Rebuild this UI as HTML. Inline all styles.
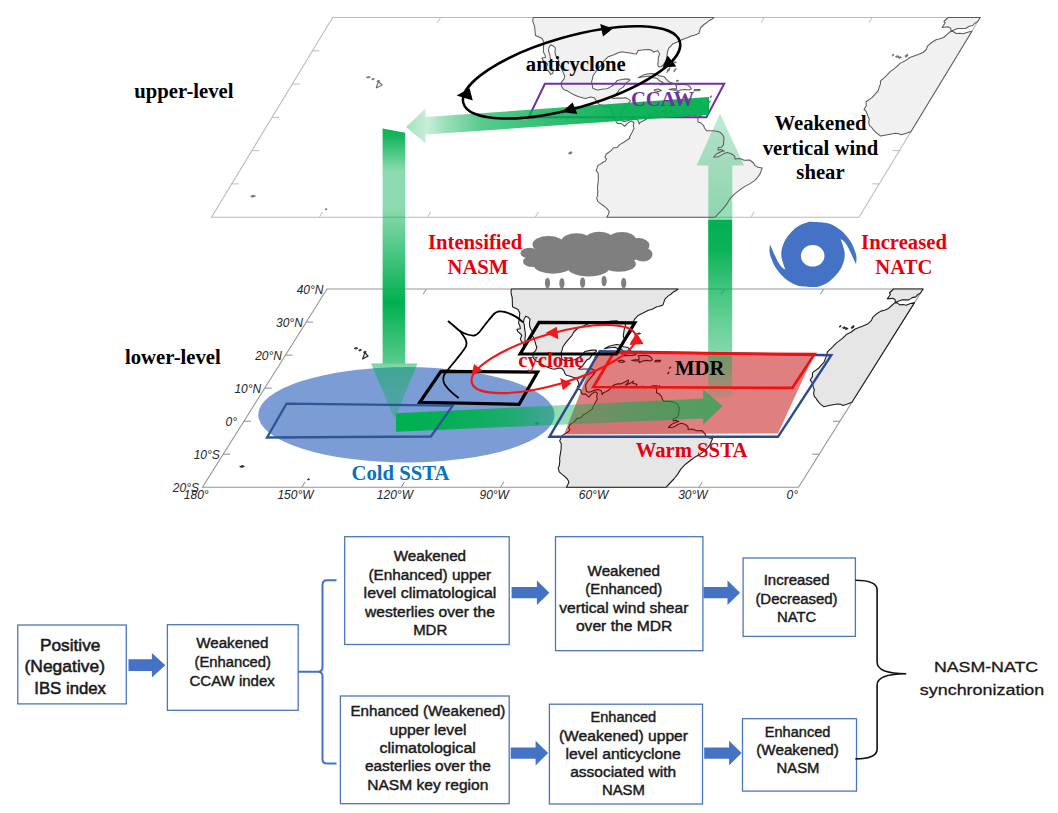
<!DOCTYPE html>
<html><head><meta charset="utf-8"><title>Schematic</title>
<style>
html,body{margin:0;padding:0;background:#fff;width:1058px;height:813px;overflow:hidden;}
svg{display:block}
.sb{font-family:"Liberation Serif",serif;font-weight:bold;}
.si{font-family:"Liberation Sans",sans-serif;font-style:italic;font-size:12px;fill:#262626;}
.fc{font-family:"Liberation Sans",sans-serif;fill:#1a1a1a;stroke:#1a1a1a;}
</style></head><body>
<svg width="1058" height="813" viewBox="0 0 1058 813">
<defs>
<linearGradient id="gW" gradientUnits="userSpaceOnUse" x1="710" y1="0" x2="406" y2="0">
<stop offset="0" stop-color="#00b050" stop-opacity="0.97"/><stop offset="0.3" stop-color="#00b050" stop-opacity="0.93"/><stop offset="0.46" stop-color="#00b050" stop-opacity="0.85"/><stop offset="0.75" stop-color="#00b050" stop-opacity="0.66"/><stop offset="0.87" stop-color="#00b050" stop-opacity="0.4"/><stop offset="0.93" stop-color="#00b050" stop-opacity="0.22"/><stop offset="1" stop-color="#00b050" stop-opacity="0.36"/>
</linearGradient>
<linearGradient id="gD" gradientUnits="userSpaceOnUse" x1="0" y1="128" x2="0" y2="419">
<stop offset="0" stop-color="#00b050" stop-opacity="0.97"/><stop offset="0.03" stop-color="#00b050" stop-opacity="0.92"/><stop offset="0.15" stop-color="#00b050" stop-opacity="0.45"/><stop offset="0.27" stop-color="#00b050" stop-opacity="0.45"/><stop offset="0.45" stop-color="#00b050" stop-opacity="0.75"/><stop offset="0.6" stop-color="#00b050" stop-opacity="1"/><stop offset="0.72" stop-color="#00b050" stop-opacity="0.8"/><stop offset="0.805" stop-color="#00b050" stop-opacity="0.66"/><stop offset="0.815" stop-color="#00b050" stop-opacity="0.5"/><stop offset="1" stop-color="#00b050" stop-opacity="0.3"/>
</linearGradient>
<linearGradient id="gUp" gradientUnits="userSpaceOnUse" x1="0" y1="217" x2="0" y2="398">
<stop offset="0" stop-color="#00b050" stop-opacity="1"/><stop offset="0.18" stop-color="#00b050" stop-opacity="0.96"/><stop offset="0.42" stop-color="#00b050" stop-opacity="0.72"/><stop offset="0.68" stop-color="#00b050" stop-opacity="0.53"/><stop offset="0.82" stop-color="#00b050" stop-opacity="0.45"/><stop offset="0.93" stop-color="#00b050" stop-opacity="0.28"/><stop offset="1" stop-color="#00b050" stop-opacity="0.08"/>
</linearGradient>
<linearGradient id="gUpTop" gradientUnits="userSpaceOnUse" x1="0" y1="219" x2="0" y2="113">
<stop offset="0" stop-color="#00b050" stop-opacity="0.42"/><stop offset="1" stop-color="#00b050" stop-opacity="0.25"/>
</linearGradient>
<linearGradient id="gE" gradientUnits="userSpaceOnUse" x1="396" y1="0" x2="722" y2="0">
<stop offset="0" stop-color="#00b050" stop-opacity="1"/><stop offset="0.135" stop-color="#00b050" stop-opacity="0.97"/><stop offset="0.26" stop-color="#00b050" stop-opacity="0.88"/><stop offset="0.37" stop-color="#00b050" stop-opacity="0.72"/><stop offset="0.46" stop-color="#00b050" stop-opacity="0.5"/><stop offset="0.5" stop-color="#00b050" stop-opacity="0.42"/><stop offset="0.6" stop-color="#00b050" stop-opacity="0.45"/><stop offset="0.75" stop-color="#00b050" stop-opacity="0.55"/><stop offset="0.93" stop-color="#00b050" stop-opacity="0.63"/><stop offset="1" stop-color="#00b050" stop-opacity="0.65"/>
</linearGradient>
</defs>

<g id="upper">
<polygon points="332.7,17.5 980.2,17.5 859.0,217.2 211.5,217.2" fill="none" stroke="#bcbcbc" stroke-width="1.1"/>
<path d="M231.7,183.9h7M879.2,183.9h-7M251.9,150.6h7M899.4,150.6h-7M272.1,117.4h7M919.6,117.4h-7M292.3,84.1h7M939.8,84.1h-7M312.5,50.8h7M960.0,50.8h-7M319.4,217.2l3.2,-5.3M440.6,17.5l-3.2,5.3M427.3,217.2l3.2,-5.3M548.5,17.5l-3.2,5.3M535.2,217.2l3.2,-5.3M656.4,17.5l-3.2,5.3M643.1,217.2l3.2,-5.3M764.3,17.5l-3.2,5.3M751.0,217.2l3.2,-5.3M872.2,17.5l-3.2,5.3" stroke="#bcbcbc" stroke-width="1" fill="none"/>
<path d="M533.1,17.5 L532.8,20.8 L533.7,24.2 L534.5,25.8 L534.8,28.8 L535.5,35.5 L539.5,37.2 L541.8,38.2 L543.8,41.8 L543.6,45.1 L543.5,49.5 L543.2,51.8 L544.8,54.5 L545.5,57.5 L541.9,58.1 L543.0,60.5 L545.0,61.8 L547.6,64.1 L546.2,68.1 L547.4,69.8 L549.9,72.8 L550.3,74.4 L552.7,73.4 L553.2,70.8 L551.7,69.8 L551.3,68.1 L551.5,64.1 L551.0,60.8 L550.2,57.5 L549.7,54.1 L548.5,50.8 L549.0,47.5 L550.7,44.8 L554.0,46.5 L555.3,47.8 L555.0,52.5 L555.9,55.8 L556.8,57.8 L558.9,60.8 L558.7,64.1 L560.7,66.8 L562.0,69.4 L563.5,73.4 L564.8,76.1 L564.0,79.1 L561.3,82.4 L561.4,86.4 L564.0,89.7 L567.9,91.1 L571.0,93.1 L574.0,94.7 L578.0,96.4 L582.6,97.7 L585.8,98.4 L590.2,97.1 L593.6,97.4 L595.7,99.7 L597.0,102.4 L599.0,104.4 L603.1,105.4 L606.6,106.7 L610.4,107.0 L610.5,108.0 L612.3,111.0 L613.2,113.7 L611.5,116.4 L612.8,118.4 L615.5,119.4 L616.2,121.7 L617.4,123.4 L621.0,123.4 L623.4,125.3 L624.9,126.3 L627.4,123.4 L631.4,121.0 L634.0,122.7 L633.2,125.7 L634.1,128.3 L632.1,132.3 L629.4,137.3 L630.1,138.0 L623.8,142.3 L619.6,144.6 L617.2,147.3 L613.2,148.0 L611.2,150.6 L608.8,152.3 L606.3,154.0 L605.0,157.3 L606.6,159.0 L605.1,161.3 L603.7,162.0 L597.8,165.6 L597.1,167.9 L596.2,170.6 L598.2,173.3 L598.2,175.6 L598.4,178.9 L597.9,183.9 L597.4,188.2 L597.8,190.6 L597.6,195.6 L596.6,197.9 L598.0,201.6 L600.9,203.9 L604.1,206.2 L607.2,208.9 L609.2,211.5 L608.5,213.9 L606.8,217.2 L715.1,217.2 L718.2,213.9 L723.0,208.9 L726.8,203.9 L729.8,198.9 L734.6,193.9 L741.2,188.9 L744.5,186.6 L749.7,183.9 L754.6,180.6 L757.7,177.3 L760.0,173.9 L762.2,167.9 L758.0,167.3 L755.2,165.9 L753.4,163.0 L749.8,160.0 L744.2,160.3 L739.8,158.6 L735.0,159.0 L734.8,156.3 L731.9,154.0 L727.3,152.6 L723.8,153.6 L720.4,155.6 L717.5,157.0 L713.5,157.0 L716.4,154.0 L722.0,151.3 L724.3,151.0 L720.8,149.6 L718.3,150.3 L718.1,147.6 L721.5,147.3 L723.5,144.6 L724.0,137.3 L722.2,134.3 L720.2,132.3 L716.8,131.3 L712.9,130.7 L706.5,130.7 L704.5,128.0 L703.7,125.7 L701.0,123.0 L698.0,122.0 L697.9,118.0 L696.5,117.4 L694.7,115.7 L698.3,115.0 L694.4,115.0 L689.1,116.0 L686.0,117.0 L683.4,115.4 L679.6,115.7 L675.5,115.4 L676.3,113.4 L671.5,112.4 L672.2,110.0 L670.1,111.7 L665.1,114.0 L663.8,114.4 L666.7,111.4 L666.6,109.2 L662.4,111.4 L658.5,113.0 L655.3,113.0 L652.4,113.7 L649.0,115.7 L646.6,119.0 L642.9,121.0 L639.9,122.4 L639.3,124.0 L638.5,121.7 L637.6,119.7 L634.6,118.7 L630.9,119.4 L626.7,121.0 L624.0,121.4 L621.9,120.7 L621.4,119.0 L621.0,117.4 L620.3,114.4 L622.5,110.7 L625.3,107.4 L628.0,104.0 L630.4,100.7 L628.5,99.1 L625.7,97.7 L621.9,98.1 L616.5,98.1 L613.8,98.4 L611.7,97.7 L615.1,95.7 L617.5,92.4 L619.8,89.1 L623.0,87.4 L625.8,83.4 L630.0,80.1 L629.1,79.1 L624.5,79.1 L617.2,80.4 L614.6,84.1 L613.8,84.7 L609.7,87.4 L606.7,88.7 L602.9,89.1 L598.0,90.1 L595.5,89.4 L592.7,88.1 L592.4,85.7 L591.5,81.8 L592.4,79.1 L593.0,75.8 L596.4,70.8 L602.0,64.4 L603.9,60.8 L608.1,56.8 L614.0,54.8 L618.1,52.8 L622.0,51.8 L626.2,52.5 L630.1,53.1 L633.7,53.8 L636.4,54.1 L638.2,50.5 L644.0,49.8 L649.6,49.5 L652.4,50.8 L653.4,52.1 L657.8,50.8 L659.6,53.8 L658.4,57.5 L658.2,61.4 L657.8,64.4 L658.5,66.8 L661.1,66.8 L663.8,64.1 L666.1,60.8 L667.0,55.8 L667.5,51.5 L668.8,48.1 L672.6,44.1 L677.7,41.8 L682.9,39.2 L687.3,37.8 L692.3,35.5 L694.3,35.2 L698.9,33.5 L700.1,29.2 L700.7,27.5 L704.0,24.5 L707.0,22.5 L708.7,20.8 L711.9,19.2 L714.0,17.5Z" fill="#f1f1f1" stroke="none"/>
<path d="M638.2,77.8 L643.1,75.1 L647.3,74.1 L651.3,73.4 L656.3,74.1 L658.8,75.8 L663.8,76.4 L666.0,78.8 L668.9,81.8 L673.3,83.4 L669.8,84.4 L659.9,84.7 L663.1,82.4 L659.4,80.8 L657.2,78.4 L652.4,77.4 L649.7,76.1 L643.9,76.8Z" fill="#f1f1f1" stroke="none"/>
<path d="M668.9,89.4 L673.5,90.1 L677.1,90.1 L677.2,91.7 L680.7,90.1 L684.7,89.4 L689.0,90.1 L691.3,88.7 L690.0,86.7 L687.7,85.1 L684.2,84.4 L680.6,84.4 L675.3,84.7 L676.5,86.4 L676.5,88.7 L672.6,88.7Z" fill="#f1f1f1" stroke="none"/>
<path d="M654.1,90.1 L658.0,89.1 L661.5,90.4 L658.7,91.4 L655.0,91.1Z" fill="#f1f1f1" stroke="none"/>
<path d="M694.8,89.4 L700.2,89.4 L699.4,90.7 L694.0,90.7Z" fill="#f1f1f1" stroke="none"/>
<path d="M948.1,17.5 L943.9,21.5 L945.3,22.8 L942.1,27.5 L947.9,26.8 L950.7,28.2 L950.9,30.2 L951.9,30.8 L953.4,30.2 L957.7,28.5 L962.7,28.5 L965.6,28.5 L969.2,26.2 L972.8,25.5 L974.9,23.2 L977.5,21.8 L980.2,17.5Z" fill="#f1f1f1" stroke="none"/>
<path d="M950.5,31.5 L947.4,34.2 L943.6,37.5 L939.9,38.8 L936.1,39.8 L931.6,42.5 L927.7,45.8 L926.2,49.5 L923.0,52.5 L917.6,54.8 L909.3,57.8 L905.3,60.8 L900.1,63.4 L895.9,67.4 L890.0,71.8 L886.2,75.8 L880.6,80.8 L880.4,84.1 L879.1,87.4 L878.2,90.7 L872.3,97.4 L866.1,101.7 L866.2,105.7 L864.0,109.4 L865.8,111.0 L867.4,114.4 L868.0,116.4 L869.3,119.0 L868.7,122.4 L869.5,125.7 L871.9,127.7 L873.2,129.7 L876.1,132.7 L880.6,136.0 L887.5,134.7 L895.5,133.3 L898.9,133.7 L901.4,134.8 L906.3,133.3 L911.0,131.5 L971.9,31.2 L967.7,32.2 L963.1,33.8 L959.9,33.2 L956.1,33.5 L952.8,31.2Z" fill="#f1f1f1" stroke="none"/>
<path d="M378.5,81.6 L382.2,85.1 L376.3,87.9 L377.3,84.4Z" fill="#f1f1f1" stroke="none"/>
<polygon points="708.3,219.5 708.3,165.4 696.6,165.4 720,113.5 744,165.4 732.3,165.4 732.3,219.5" fill="url(#gUpTop)"/>
<path d="M533.1,17.5 L532.8,20.8 L533.7,24.2 L534.5,25.8 L534.8,28.8 L535.5,35.5 L539.5,37.2 L541.8,38.2 L543.8,41.8 L543.6,45.1 L543.5,49.5 L543.2,51.8 L544.8,54.5 L545.5,57.5 L541.9,58.1 L543.0,60.5 L545.0,61.8 L547.6,64.1 L546.2,68.1 L547.4,69.8 L549.9,72.8 L550.3,74.4 L552.7,73.4 L553.2,70.8 L551.7,69.8 L551.3,68.1 L551.5,64.1 L551.0,60.8 L550.2,57.5 L549.7,54.1 L548.5,50.8 L549.0,47.5 L550.7,44.8 L554.0,46.5 L555.3,47.8 L555.0,52.5 L555.9,55.8 L556.8,57.8 L558.9,60.8 L558.7,64.1 L560.7,66.8 L562.0,69.4 L563.5,73.4 L564.8,76.1 L564.0,79.1 L561.3,82.4 L561.4,86.4 L564.0,89.7 L567.9,91.1 L571.0,93.1 L574.0,94.7 L578.0,96.4 L582.6,97.7 L585.8,98.4 L590.2,97.1 L593.6,97.4 L595.7,99.7 L597.0,102.4 L599.0,104.4 L603.1,105.4 L606.6,106.7 L610.4,107.0 L610.5,108.0 L612.3,111.0 L613.2,113.7 L611.5,116.4 L612.8,118.4 L615.5,119.4 L616.2,121.7 L617.4,123.4 L621.0,123.4 L623.4,125.3 L624.9,126.3 L627.4,123.4 L631.4,121.0 L634.0,122.7 L633.2,125.7 L634.1,128.3 L632.1,132.3 L629.4,137.3 L630.1,138.0 L623.8,142.3 L619.6,144.6 L617.2,147.3 L613.2,148.0 L611.2,150.6 L608.8,152.3 L606.3,154.0 L605.0,157.3 L606.6,159.0 L605.1,161.3 L603.7,162.0 L597.8,165.6 L597.1,167.9 L596.2,170.6 L598.2,173.3 L598.2,175.6 L598.4,178.9 L597.9,183.9 L597.4,188.2 L597.8,190.6 L597.6,195.6 L596.6,197.9 L598.0,201.6 L600.9,203.9 L604.1,206.2 L607.2,208.9 L609.2,211.5 L608.5,213.9 L606.8,217.2 L715.1,217.2 L718.2,213.9 L723.0,208.9 L726.8,203.9 L729.8,198.9 L734.6,193.9 L741.2,188.9 L744.5,186.6 L749.7,183.9 L754.6,180.6 L757.7,177.3 L760.0,173.9 L762.2,167.9 L758.0,167.3 L755.2,165.9 L753.4,163.0 L749.8,160.0 L744.2,160.3 L739.8,158.6 L735.0,159.0 L734.8,156.3 L731.9,154.0 L727.3,152.6 L723.8,153.6 L720.4,155.6 L717.5,157.0 L713.5,157.0 L716.4,154.0 L722.0,151.3 L724.3,151.0 L720.8,149.6 L718.3,150.3 L718.1,147.6 L721.5,147.3 L723.5,144.6 L724.0,137.3 L722.2,134.3 L720.2,132.3 L716.8,131.3 L712.9,130.7 L706.5,130.7 L704.5,128.0 L703.7,125.7 L701.0,123.0 L698.0,122.0 L697.9,118.0 L696.5,117.4 L694.7,115.7 L698.3,115.0 L694.4,115.0 L689.1,116.0 L686.0,117.0 L683.4,115.4 L679.6,115.7 L675.5,115.4 L676.3,113.4 L671.5,112.4 L672.2,110.0 L670.1,111.7 L665.1,114.0 L663.8,114.4 L666.7,111.4 L666.6,109.2 L662.4,111.4 L658.5,113.0 L655.3,113.0 L652.4,113.7 L649.0,115.7 L646.6,119.0 L642.9,121.0 L639.9,122.4 L639.3,124.0 L638.5,121.7 L637.6,119.7 L634.6,118.7 L630.9,119.4 L626.7,121.0 L624.0,121.4 L621.9,120.7 L621.4,119.0 L621.0,117.4 L620.3,114.4 L622.5,110.7 L625.3,107.4 L628.0,104.0 L630.4,100.7 L628.5,99.1 L625.7,97.7 L621.9,98.1 L616.5,98.1 L613.8,98.4 L611.7,97.7 L615.1,95.7 L617.5,92.4 L619.8,89.1 L623.0,87.4 L625.8,83.4 L630.0,80.1 L629.1,79.1 L624.5,79.1 L617.2,80.4 L614.6,84.1 L613.8,84.7 L609.7,87.4 L606.7,88.7 L602.9,89.1 L598.0,90.1 L595.5,89.4 L592.7,88.1 L592.4,85.7 L591.5,81.8 L592.4,79.1 L593.0,75.8 L596.4,70.8 L602.0,64.4 L603.9,60.8 L608.1,56.8 L614.0,54.8 L618.1,52.8 L622.0,51.8 L626.2,52.5 L630.1,53.1 L633.7,53.8 L636.4,54.1 L638.2,50.5 L644.0,49.8 L649.6,49.5 L652.4,50.8 L653.4,52.1 L657.8,50.8 L659.6,53.8 L658.4,57.5 L658.2,61.4 L657.8,64.4 L658.5,66.8 L661.1,66.8 L663.8,64.1 L666.1,60.8 L667.0,55.8 L667.5,51.5 L668.8,48.1 L672.6,44.1 L677.7,41.8 L682.9,39.2 L687.3,37.8 L692.3,35.5 L694.3,35.2 L698.9,33.5 L700.1,29.2 L700.7,27.5 L704.0,24.5 L707.0,22.5 L708.7,20.8 L711.9,19.2 L714.0,17.5Z" fill="none" stroke="#5c5c5c" stroke-width="1.05" stroke-linejoin="round"/>
<path d="M638.2,77.8 L643.1,75.1 L647.3,74.1 L651.3,73.4 L656.3,74.1 L658.8,75.8 L663.8,76.4 L666.0,78.8 L668.9,81.8 L673.3,83.4 L669.8,84.4 L659.9,84.7 L663.1,82.4 L659.4,80.8 L657.2,78.4 L652.4,77.4 L649.7,76.1 L643.9,76.8Z" fill="none" stroke="#5c5c5c" stroke-width="1.05" stroke-linejoin="round"/>
<path d="M668.9,89.4 L673.5,90.1 L677.1,90.1 L677.2,91.7 L680.7,90.1 L684.7,89.4 L689.0,90.1 L691.3,88.7 L690.0,86.7 L687.7,85.1 L684.2,84.4 L680.6,84.4 L675.3,84.7 L676.5,86.4 L676.5,88.7 L672.6,88.7Z" fill="none" stroke="#5c5c5c" stroke-width="1.05" stroke-linejoin="round"/>
<path d="M654.1,90.1 L658.0,89.1 L661.5,90.4 L658.7,91.4 L655.0,91.1Z" fill="none" stroke="#5c5c5c" stroke-width="1.05" stroke-linejoin="round"/>
<path d="M694.8,89.4 L700.2,89.4 L699.4,90.7 L694.0,90.7Z" fill="none" stroke="#5c5c5c" stroke-width="1.05" stroke-linejoin="round"/>
<path d="M948.1,17.5 L943.9,21.5 L945.3,22.8 L942.1,27.5 L947.9,26.8 L950.7,28.2 L950.9,30.2 L951.9,30.8 L953.4,30.2 L957.7,28.5 L962.7,28.5 L965.6,28.5 L969.2,26.2 L972.8,25.5 L974.9,23.2 L977.5,21.8 L980.2,17.5Z" fill="none" stroke="#5c5c5c" stroke-width="1.05" stroke-linejoin="round"/>
<path d="M950.5,31.5 L947.4,34.2 L943.6,37.5 L939.9,38.8 L936.1,39.8 L931.6,42.5 L927.7,45.8 L926.2,49.5 L923.0,52.5 L917.6,54.8 L909.3,57.8 L905.3,60.8 L900.1,63.4 L895.9,67.4 L890.0,71.8 L886.2,75.8 L880.6,80.8 L880.4,84.1 L879.1,87.4 L878.2,90.7 L872.3,97.4 L866.1,101.7 L866.2,105.7 L864.0,109.4 L865.8,111.0 L867.4,114.4 L868.0,116.4 L869.3,119.0 L868.7,122.4 L869.5,125.7 L871.9,127.7 L873.2,129.7 L876.1,132.7 L880.6,136.0 L887.5,134.7 L895.5,133.3 L898.9,133.7 L901.4,134.8 L906.3,133.3 L911.0,131.5 L971.9,31.2 L967.7,32.2 L963.1,33.8 L959.9,33.2 L956.1,33.5 L952.8,31.2Z" fill="none" stroke="#5c5c5c" stroke-width="1.05" stroke-linejoin="round"/>
<path d="M378.5,81.6 L382.2,85.1 L376.3,87.9 L377.3,84.4Z" fill="none" stroke="#5c5c5c" stroke-width="1.05" stroke-linejoin="round"/>
<path d="M376.8,81.1 L378.9,80.1 L379.7,81.1 L377.7,82.1Z" fill="#777" stroke="#6a6a6a" stroke-width="0.7" stroke-linejoin="round"/>
<path d="M371.6,79.1 L373.6,78.2 L374.5,79.1 L372.5,80.0Z" fill="#777" stroke="#6a6a6a" stroke-width="0.7" stroke-linejoin="round"/>
<path d="M366.4,77.3 L368.8,76.5 L370.4,77.3 L367.9,78.0Z" fill="#777" stroke="#6a6a6a" stroke-width="0.7" stroke-linejoin="round"/>
<path d="M898.0,57.5 L900.4,56.5 L901.6,57.5 L899.2,58.5Z" fill="#777" stroke="#6a6a6a" stroke-width="0.7" stroke-linejoin="round"/>
<path d="M895.4,56.5 L897.8,55.5 L899.0,56.5 L896.6,57.5Z" fill="#777" stroke="#6a6a6a" stroke-width="0.7" stroke-linejoin="round"/>
<path d="M905.1,55.8 L907.6,54.1 L908.0,55.8 L905.6,57.5Z" fill="#777" stroke="#6a6a6a" stroke-width="0.7" stroke-linejoin="round"/>
<path d="M892.0,55.1 L893.6,54.1 L893.8,55.1 L892.3,56.1Z" fill="#777" stroke="#6a6a6a" stroke-width="0.7" stroke-linejoin="round"/>
<path d="M698.4,116.0 L701.0,114.7 L702.0,116.0 L699.4,117.4Z" fill="#777" stroke="#6a6a6a" stroke-width="0.7" stroke-linejoin="round"/>
<path d="M568.5,153.0 L571.1,151.6 L572.1,153.0 L569.5,154.3Z" fill="#777" stroke="#6a6a6a" stroke-width="0.7" stroke-linejoin="round"/>
<path d="M667.3,70.1 L670.0,67.4 L669.5,70.1 L666.8,72.8Z" fill="#777" stroke="#6a6a6a" stroke-width="0.7" stroke-linejoin="round"/>
<path d="M673.0,62.4 L675.2,61.8 L676.6,62.4 L674.4,63.1Z" fill="#777" stroke="#6a6a6a" stroke-width="0.7" stroke-linejoin="round"/>
<path d="M674.2,70.1 L676.1,68.1 L675.6,70.1 L673.7,72.1Z" fill="#777" stroke="#6a6a6a" stroke-width="0.7" stroke-linejoin="round"/>
<path d="M676.0,80.8 L677.8,80.1 L678.8,80.8 L677.0,81.4Z" fill="#777" stroke="#6a6a6a" stroke-width="0.7" stroke-linejoin="round"/>
<path d="M710.0,96.7 L711.5,95.7 L711.8,96.7 L710.3,97.7Z" fill="#777" stroke="#6a6a6a" stroke-width="0.7" stroke-linejoin="round"/>
<path d="M708.7,102.1 L710.1,100.9 L710.2,102.1 L708.7,103.2Z" fill="#777" stroke="#6a6a6a" stroke-width="0.7" stroke-linejoin="round"/>
<path d="M325.0,209.2 L326.5,208.5 L327.1,209.2 L325.7,209.9Z" fill="#777" stroke="#6a6a6a" stroke-width="0.7" stroke-linejoin="round"/>
<path d="M250.5,196.2 L253.6,195.2 L255.5,196.2 L252.4,197.2Z" fill="#777" stroke="#6a6a6a" stroke-width="0.7" stroke-linejoin="round"/>
</g>
<g id="lower">
<polygon points="327.0,289.0 923.0,289.0 798.5,487.3 202.5,487.3" fill="none" stroke="#959595" stroke-width="1.1"/>
<path d="M223.2,454.2h7M819.2,454.2h-7M244.0,421.2h7M840.0,421.2h-7M264.8,388.1h7M860.7,388.1h-7M285.5,355.1h7M881.5,355.1h-7M306.2,322.1h7M902.2,322.1h-7M301.8,487.3l3.2,-5.3M426.3,289.0l-3.2,5.3M401.2,487.3l3.2,-5.3M525.7,289.0l-3.2,5.3M500.5,487.3l3.2,-5.3M625.0,289.0l-3.2,5.3M599.8,487.3l3.2,-5.3M724.3,289.0l-3.2,5.3M699.1,487.3l3.2,-5.3M823.6,289.0l-3.2,5.3" stroke="#8c8c8c" stroke-width="1" fill="none"/>
<path d="M511.4,289.0 L511.0,292.3 L511.6,295.6 L512.2,297.3 L512.3,300.2 L512.5,306.8 L516.1,308.5 L518.1,309.5 L519.8,313.1 L519.4,316.4 L519.0,320.7 L518.5,323.0 L519.8,325.7 L520.3,328.7 L516.9,329.3 L517.8,331.6 L519.6,333.0 L521.8,335.3 L520.3,339.2 L521.2,340.9 L523.3,343.9 L523.6,345.5 L525.9,344.5 L526.6,341.9 L525.2,340.9 L524.9,339.2 L525.4,335.3 L525.2,332.0 L524.6,328.7 L524.4,325.4 L523.5,322.1 L524.2,318.7 L525.9,316.1 L528.8,317.8 L530.0,319.1 L529.4,323.7 L529.9,327.0 L530.7,329.0 L532.5,332.0 L532.0,335.3 L533.7,337.9 L534.7,340.6 L535.8,344.5 L536.8,347.2 L535.9,350.1 L533.2,353.4 L533.0,357.4 L535.3,360.7 L538.7,362.0 L541.5,364.0 L544.1,365.7 L547.7,367.3 L551.8,368.7 L554.7,369.3 L558.8,368.0 L561.9,368.3 L563.8,370.6 L564.8,373.3 L566.5,375.3 L570.2,376.3 L573.4,377.6 L576.8,377.9 L576.8,378.9 L578.3,381.9 L578.9,384.5 L577.3,387.2 L578.3,389.1 L580.7,390.1 L581.2,392.4 L582.2,394.1 L585.5,394.1 L587.6,396.1 L588.9,397.1 L591.5,394.1 L595.2,391.8 L597.5,393.4 L596.6,396.4 L597.3,399.1 L595.1,403.0 L592.3,408.0 L592.9,408.6 L586.9,412.9 L582.8,415.3 L580.5,417.9 L576.8,418.6 L574.8,421.2 L572.4,422.9 L570.0,424.5 L568.6,427.8 L569.9,429.5 L568.5,431.8 L567.1,432.4 L561.5,436.1 L560.7,438.4 L559.7,441.0 L561.3,443.7 L561.2,446.0 L561.1,449.3 L560.3,454.2 L559.6,458.5 L559.8,460.9 L559.3,465.8 L558.2,468.1 L559.2,471.8 L561.8,474.1 L564.6,476.4 L567.3,479.0 L568.9,481.7 L568.1,484.0 L566.4,487.3 L666.0,487.3 L669.1,484.0 L673.9,479.0 L677.7,474.1 L680.8,469.1 L685.5,464.2 L692.0,459.2 L695.1,456.9 L700.0,454.2 L704.8,450.9 L707.8,447.6 L710.2,444.3 L712.6,438.4 L708.8,437.7 L706.3,436.4 L704.8,433.4 L701.7,430.5 L696.6,430.8 L692.6,429.1 L688.1,429.5 L688.1,426.8 L685.6,424.5 L681.5,423.2 L678.2,424.2 L675.0,426.2 L672.1,427.5 L668.5,427.5 L671.4,424.5 L676.7,421.9 L678.9,421.5 L675.7,420.2 L673.3,420.9 L673.3,418.2 L676.5,417.9 L678.5,415.3 L679.4,408.0 L678.0,405.0 L676.2,403.0 L673.2,402.0 L669.7,401.4 L663.7,401.4 L662.1,398.7 L661.5,396.4 L659.2,393.8 L656.5,392.8 L656.7,388.8 L655.4,388.1 L653.8,386.5 L657.2,385.8 L653.6,385.8 L648.7,386.8 L645.7,387.8 L643.4,386.2 L639.9,386.5 L636.2,386.2 L637.1,384.2 L632.7,383.2 L633.5,380.9 L631.5,382.5 L626.7,384.8 L625.5,385.2 L628.4,382.2 L628.4,380.1 L624.4,382.2 L620.7,383.9 L617.8,383.9 L615.0,384.5 L611.8,386.5 L609.4,389.8 L605.8,391.8 L603.0,393.1 L602.3,394.8 L601.8,392.4 L601.0,390.5 L598.3,389.5 L594.9,390.1 L590.9,391.8 L588.4,392.1 L586.5,391.5 L586.2,389.8 L585.9,388.1 L585.5,385.2 L587.7,381.5 L590.5,378.2 L593.2,374.9 L595.6,371.6 L594.0,370.0 L591.5,368.7 L588.0,369.0 L583.1,369.0 L580.5,369.3 L578.6,368.7 L581.9,366.7 L584.3,363.4 L586.7,360.1 L589.7,358.4 L592.5,354.4 L596.6,351.1 L595.9,350.1 L591.6,350.1 L584.8,351.5 L582.2,355.1 L581.4,355.8 L577.4,358.4 L574.6,359.7 L571.1,360.1 L566.5,361.0 L564.3,360.4 L561.8,359.1 L561.6,356.8 L561.1,352.8 L562.1,350.1 L562.9,346.8 L566.3,341.9 L571.9,335.6 L573.8,332.0 L578.0,328.0 L583.5,326.0 L587.4,324.0 L591.0,323.0 L594.9,323.7 L598.5,324.4 L601.7,325.0 L604.2,325.4 L606.1,321.7 L611.5,321.1 L616.7,320.7 L619.1,322.1 L620.0,323.4 L624.1,322.1 L625.5,325.0 L624.3,328.7 L623.8,332.6 L623.2,335.6 L623.7,337.9 L626.1,337.9 L628.7,335.3 L631.1,332.0 L632.3,327.0 L633.0,322.7 L634.4,319.4 L638.2,315.4 L643.0,313.1 L647.9,310.5 L652.1,309.2 L656.8,306.8 L658.7,306.5 L663.0,304.9 L664.4,300.6 L665.1,298.9 L668.3,295.9 L671.2,294.0 L672.9,292.3 L675.9,290.7 L678.0,289.0Z" fill="#e6e6e6" stroke="#1c1c1c" stroke-width="1.1" stroke-linejoin="round"/>
<path d="M604.3,348.8 L609.0,346.2 L612.9,345.2 L616.6,344.5 L621.2,345.2 L623.4,346.8 L628.0,347.5 L629.9,349.8 L632.3,352.8 L636.2,354.4 L632.9,355.4 L623.8,355.8 L626.9,353.4 L623.6,351.8 L621.8,349.5 L617.4,348.5 L615.0,347.2 L609.6,347.8Z" fill="#e6e6e6" stroke="#1c1c1c" stroke-width="1.1" stroke-linejoin="round"/>
<path d="M631.8,360.4 L636.0,361.0 L639.4,361.0 L639.3,362.7 L642.7,361.0 L646.4,360.4 L650.3,361.0 L652.4,359.7 L651.4,357.7 L649.4,356.1 L646.2,355.4 L642.9,355.4 L638.0,355.8 L639.0,357.4 L638.9,359.7 L635.2,359.7Z" fill="#e6e6e6" stroke="#1c1c1c" stroke-width="1.1" stroke-linejoin="round"/>
<path d="M618.2,361.0 L621.8,360.1 L624.9,361.4 L622.3,362.4 L618.9,362.0Z" fill="#e6e6e6" stroke="#1c1c1c" stroke-width="1.1" stroke-linejoin="round"/>
<path d="M655.7,360.4 L660.6,360.4 L659.8,361.7 L654.8,361.7Z" fill="#e6e6e6" stroke="#1c1c1c" stroke-width="1.1" stroke-linejoin="round"/>
<path d="M893.5,289.0 L889.4,293.0 L890.5,294.3 L887.3,298.9 L892.7,298.3 L895.1,299.6 L895.2,301.6 L896.1,302.2 L897.5,301.6 L901.6,299.9 L906.2,299.9 L908.8,299.9 L912.3,297.6 L915.7,296.9 L917.8,294.6 L920.3,293.3 L923.0,289.0Z" fill="#e6e6e6" stroke="#1c1c1c" stroke-width="1.1" stroke-linejoin="round"/>
<path d="M894.7,302.9 L891.7,305.5 L888.0,308.8 L884.5,310.2 L880.9,311.1 L876.6,313.8 L872.9,317.1 L871.3,320.7 L868.1,323.7 L863.0,326.0 L855.2,329.0 L851.3,332.0 L846.3,334.6 L842.2,338.6 L836.5,342.9 L832.7,346.8 L827.3,351.8 L826.8,355.1 L825.4,358.4 L824.4,361.7 L818.5,368.3 L812.5,372.6 L812.4,376.6 L810.1,380.2 L811.7,381.9 L812.9,385.2 L813.3,387.2 L814.3,389.8 L813.6,393.1 L814.2,396.4 L816.2,398.4 L817.3,400.4 L819.7,403.4 L823.6,406.7 L830.1,405.3 L837.5,404.0 L840.6,404.3 L842.9,405.5 L847.5,404.0 L851.9,402.2 L914.5,302.6 L910.5,303.5 L906.2,305.2 L903.3,304.5 L899.8,304.9 L896.9,302.6Z" fill="#e6e6e6" stroke="#1c1c1c" stroke-width="1.1" stroke-linejoin="round"/>
<path d="M365.0,352.6 L368.1,356.1 L362.6,358.9 L363.8,355.4Z" fill="#e6e6e6" stroke="#1c1c1c" stroke-width="1.1" stroke-linejoin="round"/>
<path d="M363.5,352.1 L365.5,351.1 L366.2,352.1 L364.2,353.1Z" fill="#333" stroke="#1c1c1c" stroke-width="0.8" stroke-linejoin="round"/>
<path d="M358.8,350.1 L360.7,349.2 L361.5,350.1 L359.5,351.1Z" fill="#333" stroke="#1c1c1c" stroke-width="0.8" stroke-linejoin="round"/>
<path d="M354.2,348.3 L356.4,347.6 L357.8,348.3 L355.5,349.1Z" fill="#333" stroke="#1c1c1c" stroke-width="0.8" stroke-linejoin="round"/>
<path d="M844.8,328.7 L847.1,327.7 L848.1,328.7 L845.8,329.7Z" fill="#333" stroke="#1c1c1c" stroke-width="0.8" stroke-linejoin="round"/>
<path d="M842.4,327.7 L844.7,326.7 L845.7,327.7 L843.4,328.7Z" fill="#333" stroke="#1c1c1c" stroke-width="0.8" stroke-linejoin="round"/>
<path d="M851.4,327.0 L853.8,325.4 L854.1,327.0 L851.7,328.7Z" fill="#333" stroke="#1c1c1c" stroke-width="0.8" stroke-linejoin="round"/>
<path d="M839.4,326.3 L840.9,325.4 L841.1,326.3 L839.6,327.3Z" fill="#333" stroke="#1c1c1c" stroke-width="0.8" stroke-linejoin="round"/>
<path d="M657.3,386.8 L659.8,385.5 L660.6,386.8 L658.1,388.1Z" fill="#333" stroke="#1c1c1c" stroke-width="0.8" stroke-linejoin="round"/>
<path d="M535.2,423.5 L537.7,422.2 L538.6,423.5 L536.1,424.8Z" fill="#333" stroke="#1c1c1c" stroke-width="0.8" stroke-linejoin="round"/>
<path d="M631.6,341.2 L634.3,338.6 L633.6,341.2 L630.9,343.9Z" fill="#333" stroke="#1c1c1c" stroke-width="0.8" stroke-linejoin="round"/>
<path d="M637.4,333.6 L639.4,333.0 L640.7,333.6 L638.6,334.3Z" fill="#333" stroke="#1c1c1c" stroke-width="0.8" stroke-linejoin="round"/>
<path d="M637.9,341.2 L639.8,339.2 L639.2,341.2 L637.3,343.2Z" fill="#333" stroke="#1c1c1c" stroke-width="0.8" stroke-linejoin="round"/>
<path d="M638.9,351.8 L640.6,351.1 L641.5,351.8 L639.8,352.5Z" fill="#333" stroke="#1c1c1c" stroke-width="0.8" stroke-linejoin="round"/>
<path d="M669.1,367.7 L670.6,366.7 L670.8,367.7 L669.3,368.7Z" fill="#333" stroke="#1c1c1c" stroke-width="0.8" stroke-linejoin="round"/>
<path d="M667.6,372.9 L669.0,371.8 L669.0,372.9 L667.6,374.1Z" fill="#333" stroke="#1c1c1c" stroke-width="0.8" stroke-linejoin="round"/>
<path d="M307.5,479.4 L308.9,478.7 L309.5,479.4 L308.1,480.0Z" fill="#333" stroke="#1c1c1c" stroke-width="0.8" stroke-linejoin="round"/>
<path d="M239.7,466.5 L242.7,465.5 L244.4,466.5 L241.4,467.5Z" fill="#333" stroke="#1c1c1c" stroke-width="0.8" stroke-linejoin="round"/>
<text class="si" x="323.5" y="294.0" text-anchor="end">40°N</text>
<text class="si" x="302.8" y="327.1" text-anchor="end">30°N</text>
<text class="si" x="282.0" y="360.1" text-anchor="end">20°N</text>
<text class="si" x="261.2" y="393.1" text-anchor="end">10°N</text>
<text class="si" x="237.0" y="426.2" text-anchor="end">0°</text>
<text class="si" x="219.8" y="459.2" text-anchor="end">10°S</text>
<text class="si" x="199.0" y="492.3" text-anchor="end">20°S</text>
<text class="si" x="196.2" y="498.6" text-anchor="middle">180°</text>
<text class="si" x="295.5" y="498.6" text-anchor="middle">150°W</text>
<text class="si" x="394.9" y="498.6" text-anchor="middle">120°W</text>
<text class="si" x="494.2" y="498.6" text-anchor="middle">90°W</text>
<text class="si" x="593.5" y="498.6" text-anchor="middle">60°W</text>
<text class="si" x="692.9" y="498.6" text-anchor="middle">30°W</text>
<text class="si" x="792.2" y="498.6" text-anchor="middle">0°</text>
</g>
<g id="overlays">
<ellipse cx="406.4" cy="414.8" rx="148.2" ry="47.7" fill="#4472c4" fill-opacity="0.7"/>
<polygon points="595.5,354 814,355 778,433.5 564,434.3" fill="#c00000" fill-opacity="0.5"/>
<rect x="708.2" y="219.6" width="23.9" height="178.4" fill="url(#gUp)"/>
<polygon points="544.9,83.7 724.2,83.7 706.5,117.3 528.7,117.3" fill="none" stroke="#7030a0" stroke-width="2"/>
<polygon points="709,97.1 709,114.7 425.5,134.6 425.5,143.3 406,127 425.5,108.4 425.5,117.1" fill="url(#gW)"/>
<polygon points="382.6,128.4 405.2,132.7 405.2,363.5 417.5,363.5 394.5,419 371,363.5 382.6,363.5" fill="url(#gD)"/>
<polygon points="396,413.2 703.2,398.4 703.2,389.3 722.6,406 703.2,424.8 703.2,418.4 396,431.8" fill="url(#gE)"/>
<polygon points="286.5,403.7 452.7,405.6 430.9,436.5 267,437.5" fill="none" stroke="#2f5597" stroke-width="2.3"/>
<polygon points="599.7,351.3 831.3,355.2 778,436.8 549.4,436.8" fill="none" stroke="#2a4b8d" stroke-width="2.4"/>
<polygon points="613.8,352.7 814.5,354.2 792.3,387.9 593.4,387" fill="none" stroke="#f01010" stroke-width="2.7"/>
<polygon points="441,371.3 537.6,372.1 519.1,404.4 419.8,402.3" fill="none" stroke="#000" stroke-width="3.2"/>
<polygon points="539,322.4 634.8,322.9 616.3,354 520.2,354" fill="none" stroke="#000" stroke-width="3.2"/>
<path d="M447.9,321.0 C448.9,321.8 452.0,324.3 454.0,326.0 C456.0,327.7 457.8,329.7 460.0,331.1 C462.2,332.5 465.1,333.8 467.5,334.5 C469.9,335.2 472.4,335.7 474.2,335.5 C476.0,335.3 476.3,335.3 478.3,333.2 C480.3,331.1 483.7,326.3 486.4,323.0 C489.1,319.7 492.5,315.4 494.5,313.5 C496.5,311.6 496.8,311.7 498.6,311.5 C500.4,311.3 502.5,311.3 505.4,312.2 C508.3,313.1 513.3,315.2 516.2,316.9 C519.1,318.6 521.9,321.4 523.0,322.3" fill="none" stroke="#000" stroke-width="1.8"/>
<path d="M460.0,331.1 C460.9,332.5 464.4,336.7 465.4,339.2 C466.4,341.7 467.5,342.8 466.1,346.0 C464.8,349.2 460.2,354.4 457.3,358.2 C454.4,362.0 450.8,366.1 448.5,369.0 C446.2,371.9 444.6,373.6 443.8,375.8 C443.0,378.1 442.8,380.0 443.8,382.5 C444.8,385.0 447.4,388.1 449.9,390.7 C452.4,393.3 457.2,396.9 458.7,398.1" fill="none" stroke="#000" stroke-width="1.8"/>
<ellipse cx="571.6" cy="72.4" rx="112.5" ry="35.7" transform="rotate(-15.9 571.6 72.4)" fill="none" stroke="#000" stroke-width="2.5"/>
<polygon points="613.0,28.6 600.2,24.0 603.0,36.6" fill="#000"/>
<polygon points="662.6,67.6 667.6,55.6 676.4,66.4" fill="#000"/>
<polygon points="561.8,112.0 572.6,102.4 577.4,114.0" fill="#000"/>
<polygon points="456.6,95.4 469.6,88.3 472.8,100.6" fill="#000"/>
<ellipse cx="553.8" cy="359.1" rx="85.3" ry="25.4" transform="rotate(-16.2 553.8 359.1)" fill="none" stroke="#f01818" stroke-width="2.15"/>
<polygon points="545.6,332.9 556.8,326.7 558.4,339.2" fill="#f01818"/>
<polygon points="471.6,375.0 474.0,364.0 482.6,370.6" fill="#f01818"/>
<polygon points="571.6,383.2 560.2,378.0 562.8,390.3" fill="#f01818"/>
<polygon points="636.4,332.6 629.6,345.0 643.6,344.0" fill="#f01818"/>
<g fill="#7f7f7f"><ellipse cx="529.5" cy="253" rx="9" ry="5.3"/><ellipse cx="533" cy="261.5" rx="10" ry="5.5"/><ellipse cx="548.5" cy="244.5" rx="16" ry="8.5"/><ellipse cx="576.5" cy="241" rx="15" ry="7.8"/><ellipse cx="599.2" cy="238.8" rx="13.5" ry="7"/><ellipse cx="621.9" cy="239.5" rx="14" ry="7.5"/><ellipse cx="638.5" cy="245.5" rx="11" ry="7.5"/><ellipse cx="643" cy="254.5" rx="9.5" ry="7"/><ellipse cx="553" cy="265.5" rx="19" ry="8.3"/><ellipse cx="588.6" cy="267.5" rx="21" ry="8.9"/><ellipse cx="618.9" cy="264" rx="17" ry="7.8"/><ellipse cx="588" cy="253" rx="53" ry="15.5"/><ellipse cx="548" cy="255" rx="14" ry="9"/>
<ellipse cx="547.5" cy="283" rx="2.6" ry="5.3"/>
<ellipse cx="561.9" cy="283.2" rx="2.6" ry="5.3"/>
<ellipse cx="582.6" cy="282.5" rx="2.6" ry="5.3"/>
<ellipse cx="604.1" cy="281" rx="2.6" ry="5.3"/>
<ellipse cx="623.7" cy="283" rx="2.6" ry="5.3"/>
</g>
<path d="M813.0,221.9 C816.6,222.1 824.0,221.9 828.7,223.4 C833.5,224.9 837.9,227.8 841.5,230.8 C845.1,233.8 848.3,238.0 850.6,241.6 C852.9,245.2 854.4,249.6 855.4,252.4 C856.4,255.2 856.4,256.3 856.5,258.3 C856.6,260.3 856.1,263.2 856.0,264.2 C855.3,262.6 853.1,257.8 851.8,254.9 C850.4,252.0 849.1,249.1 847.9,246.9 C846.6,244.7 845.5,243.1 844.3,241.8 C843.1,240.5 841.2,239.6 840.6,239.1 C841.1,240.5 842.8,244.9 843.5,247.5 C844.2,250.1 844.7,251.9 844.7,254.4 C844.7,256.9 844.5,259.4 843.5,262.3 C842.5,265.2 841.1,268.8 838.6,272.1 C836.1,275.4 832.0,279.6 828.7,282.0 C825.4,284.4 821.5,285.6 818.9,286.4 C816.3,287.2 816.6,287.1 813.0,286.9 C809.4,286.7 802.0,286.9 797.3,285.4 C792.5,283.9 788.1,281.0 784.5,278.0 C780.9,275.0 777.7,270.8 775.4,267.2 C773.1,263.6 771.6,259.2 770.6,256.4 C769.6,253.6 769.6,252.5 769.5,250.5 C769.4,248.5 769.9,245.6 770.0,244.6 C770.7,246.2 772.9,251.0 774.2,253.9 C775.6,256.8 776.9,259.7 778.1,261.9 C779.4,264.1 780.5,265.7 781.7,267.0 C782.9,268.3 784.8,269.2 785.4,269.7 C784.9,268.3 783.2,263.9 782.5,261.3 C781.8,258.8 781.3,256.9 781.3,254.4 C781.3,251.9 781.5,249.4 782.5,246.5 C783.5,243.6 784.9,240.0 787.4,236.7 C789.9,233.4 794.0,229.2 797.3,226.8 C800.6,224.4 804.5,223.2 807.1,222.4 C809.7,221.6 809.4,221.7 813.0,221.9Z" fill="#4472c4"/>
<ellipse cx="812.7" cy="255.8" rx="11.8" ry="10.8" fill="#fff"/>
</g>
<g id="labels" class="sb" font-size="20.7">
<text x="134.3" y="97.6">upper-level</text>
<text x="125" y="363.6">lower-level</text>
<text x="575.8" y="71.2" text-anchor="middle">anticyclone</text>
<text x="662.5" y="106.1" text-anchor="middle" fill="#7030a0">CCAW</text>
<text x="820.5" y="129.8" text-anchor="middle">Weakened</text>
<text x="820.5" y="154.6" text-anchor="middle">vertical wind</text>
<text x="820.5" y="179.4" text-anchor="middle">shear</text>
<text x="904" y="249.4" text-anchor="middle" fill="#e3000f">Increased</text>
<text x="903.9" y="274" text-anchor="middle" fill="#e3000f">NATC</text>
<text x="475.1" y="249.4" text-anchor="middle" fill="#e3000f">Intensified</text>
<text x="477.9" y="273.9" text-anchor="middle" fill="#e3000f">NASM</text>
<text x="551" y="367" text-anchor="middle" fill="#e3000f">cyclone</text>
<text x="699.8" y="375" text-anchor="middle">MDR</text>
<text x="691.5" y="457" text-anchor="middle" fill="#e3000f">Warm SSTA</text>
<text x="400.5" y="479.5" text-anchor="middle" fill="#0a70c0">Cold SSTA</text>
</g>

<g id="flow">
<rect x="17.8" y="625.0" width="108.5" height="78.9" fill="#fff" stroke="#4a76c0" stroke-width="1.3"/>
<text class="fc" font-size="17" stroke-width="0.55" x="39.9" y="650.8" textLength="60.5" lengthAdjust="spacingAndGlyphs">Positive</text>
<text class="fc" font-size="17" stroke-width="0.55" x="24.5" y="671.7" textLength="80.5" lengthAdjust="spacingAndGlyphs">(Negative)</text>
<text class="fc" font-size="17" stroke-width="0.55" x="34.3" y="693.6" textLength="71.7" lengthAdjust="spacingAndGlyphs">IBS index</text>
<polygon points="128.5,659.3 151.9,659.3 151.9,653.0 165.3,665.2 151.9,677.4 151.9,671.1 128.5,671.1" fill="#4472c4"/>
<rect x="167.4" y="624.7" width="130.8" height="85.6" fill="#fff" stroke="#4a76c0" stroke-width="1.3"/>
<text class="fc" font-size="14" stroke-width="0.42" x="196.2" y="648.4" textLength="72.3" lengthAdjust="spacingAndGlyphs">Weakened</text>
<text class="fc" font-size="14" stroke-width="0.42" x="194.5" y="667.1" textLength="76.5" lengthAdjust="spacingAndGlyphs">(Enhanced)</text>
<text class="fc" font-size="14" stroke-width="0.42" x="189.5" y="685.9" textLength="85.3" lengthAdjust="spacingAndGlyphs">CCAW index</text>
<path d="M336.5,580.3 L327,580.3 Q322.5,580.3 322.5,585 L322.5,667 Q322.5,671.8 318,671.8 L298.1,671.8 L318,671.8 Q322.5,671.8 322.5,676.5 L322.5,759 Q322.5,763.5 327,763.5 L336.5,763.5" fill="none" stroke="#4472c4" stroke-width="2"/>
<rect x="344.7" y="536.7" width="164.5" height="107.8" fill="#fff" stroke="#4a76c0" stroke-width="1.3"/>
<text class="fc" font-size="14" stroke-width="0.42" x="393.7" y="561.3" textLength="72.4" lengthAdjust="spacingAndGlyphs">Weakened</text>
<text class="fc" font-size="14" stroke-width="0.42" x="368.4" y="579.8" textLength="122.8" lengthAdjust="spacingAndGlyphs">(Enhanced) upper</text>
<text class="fc" font-size="14" stroke-width="0.42" x="363.6" y="598.3" textLength="132.8" lengthAdjust="spacingAndGlyphs">level climatological</text>
<text class="fc" font-size="14" stroke-width="0.42" x="365.0" y="616.7" textLength="129.8" lengthAdjust="spacingAndGlyphs">westerlies over the</text>
<text class="fc" font-size="14" stroke-width="0.42" x="413.2" y="635.2" textLength="34.0" lengthAdjust="spacingAndGlyphs">MDR</text>
<rect x="340.4" y="696.0" width="168.8" height="107.7" fill="#fff" stroke="#4a76c0" stroke-width="1.3"/>
<text class="fc" font-size="14" stroke-width="0.42" x="350.4" y="716.2" textLength="155.0" lengthAdjust="spacingAndGlyphs">Enhanced (Weakened)</text>
<text class="fc" font-size="14" stroke-width="0.42" x="389.5" y="734.5" textLength="77.0" lengthAdjust="spacingAndGlyphs">upper level</text>
<text class="fc" font-size="14" stroke-width="0.42" x="379.5" y="753.0" textLength="96.4" lengthAdjust="spacingAndGlyphs">climatological</text>
<text class="fc" font-size="14" stroke-width="0.42" x="365.0" y="771.4" textLength="125.7" lengthAdjust="spacingAndGlyphs">easterlies over the</text>
<text class="fc" font-size="14" stroke-width="0.42" x="367.2" y="789.5" textLength="121.2" lengthAdjust="spacingAndGlyphs">NASM key region</text>
<polygon points="511.6,587.1 536.9,587.1 536.9,580.4 549.4,592.7 536.9,605.0 536.9,598.3 511.6,598.3" fill="#4472c4"/>
<rect x="555.5" y="536.7" width="147.4" height="114.0" fill="#fff" stroke="#4a76c0" stroke-width="1.3"/>
<text class="fc" font-size="14" stroke-width="0.42" x="587.6" y="575.7" textLength="72.4" lengthAdjust="spacingAndGlyphs">Weakened</text>
<text class="fc" font-size="14" stroke-width="0.42" x="585.3" y="594.4" textLength="77.0" lengthAdjust="spacingAndGlyphs">(Enhanced)</text>
<text class="fc" font-size="14" stroke-width="0.42" x="559.3" y="612.9" textLength="129.1" lengthAdjust="spacingAndGlyphs">vertical wind shear</text>
<text class="fc" font-size="14" stroke-width="0.42" x="575.9" y="630.9" textLength="96.4" lengthAdjust="spacingAndGlyphs">over the MDR</text>
<polygon points="703.5,587.1 727.5,587.1 727.5,580.4 740.0,592.7 727.5,605.0 727.5,598.3 703.5,598.3" fill="#4472c4"/>
<rect x="743.1" y="558.0" width="112.3" height="78.4" fill="#fff" stroke="#4a76c0" stroke-width="1.3"/>
<text class="fc" font-size="14" stroke-width="0.42" x="763.7" y="585.4" textLength="65.8" lengthAdjust="spacingAndGlyphs">Increased</text>
<text class="fc" font-size="14" stroke-width="0.42" x="755.4" y="603.9" textLength="82.2" lengthAdjust="spacingAndGlyphs">(Decreased)</text>
<text class="fc" font-size="14" stroke-width="0.42" x="777.1" y="622.2" textLength="39.2" lengthAdjust="spacingAndGlyphs">NATC</text>
<polygon points="510.7,747.5 535.6,747.5 535.6,740.8 548.1,753.1 535.6,765.4 535.6,758.7 510.7,758.7" fill="#4472c4"/>
<rect x="549.4" y="704.2" width="153.1" height="99.8" fill="#fff" stroke="#4a76c0" stroke-width="1.3"/>
<text class="fc" font-size="14" stroke-width="0.42" x="590.4" y="722.1" textLength="65.8" lengthAdjust="spacingAndGlyphs">Enhanced</text>
<text class="fc" font-size="14" stroke-width="0.42" x="558.9" y="740.7" textLength="129.1" lengthAdjust="spacingAndGlyphs">(Weakened) upper</text>
<text class="fc" font-size="14" stroke-width="0.42" x="565.5" y="759.0" textLength="115.3" lengthAdjust="spacingAndGlyphs">level anticyclone</text>
<text class="fc" font-size="14" stroke-width="0.42" x="570.2" y="777.3" textLength="105.9" lengthAdjust="spacingAndGlyphs">associated with</text>
<text class="fc" font-size="14" stroke-width="0.42" x="602.0" y="795.3" textLength="42.9" lengthAdjust="spacingAndGlyphs">NASM</text>
<polygon points="704.2,747.5 729.1,747.5 729.1,740.8 741.6,753.1 729.1,765.4 729.1,758.7 704.2,758.7" fill="#4472c4"/>
<rect x="742.5" y="718.7" width="114.0" height="72.4" fill="#fff" stroke="#4a76c0" stroke-width="1.3"/>
<text class="fc" font-size="14" stroke-width="0.42" x="764.8" y="736.7" textLength="65.6" lengthAdjust="spacingAndGlyphs">Enhanced</text>
<text class="fc" font-size="14" stroke-width="0.42" x="756.3" y="755.2" textLength="82.6" lengthAdjust="spacingAndGlyphs">(Weakened)</text>
<text class="fc" font-size="14" stroke-width="0.42" x="776.6" y="773.2" textLength="42.9" lengthAdjust="spacingAndGlyphs">NASM</text>
<path d="M855.4,580.3 Q877.1,580.3 877.1,590 L877.1,662 Q877.1,673.7 906.3,673.7 Q877.1,673.7 877.1,685 L877.1,749 Q877.1,758.9 855.4,758.9" fill="none" stroke="#111" stroke-width="1.6"/>
<text class="fc" font-size="15.5" stroke-width="0.3" x="933.9" y="671.8" textLength="104.2" lengthAdjust="spacingAndGlyphs">NASM-NATC</text>
<text class="fc" font-size="15.5" stroke-width="0.3" x="919.8" y="694.5" textLength="124.5" lengthAdjust="spacingAndGlyphs">synchronization</text>
</g>
</svg></body></html>
